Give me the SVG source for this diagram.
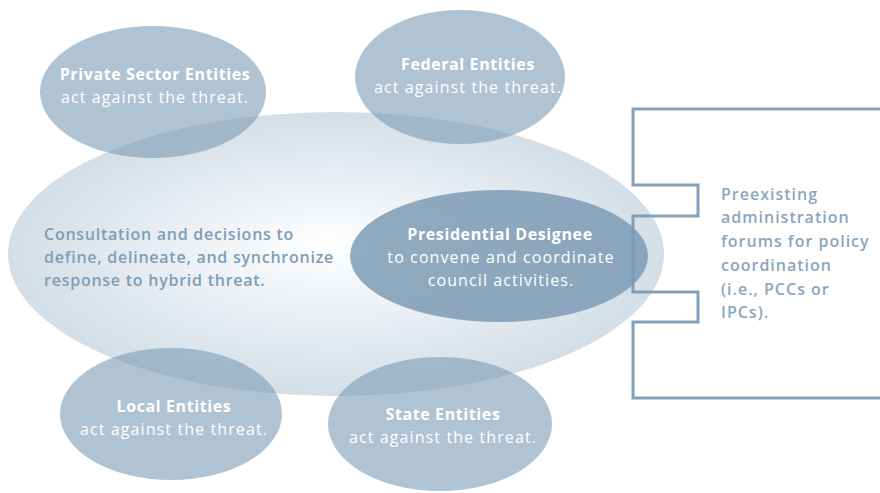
<svg xmlns="http://www.w3.org/2000/svg" width="880" height="493" viewBox="0 0 880 493">
<defs>
<radialGradient id="core" cx="0.5" cy="0.5" r="0.5" fx="0.49" fy="0.47">
<stop offset="0" stop-color="#ffffff"/>
<stop offset="0.55" stop-color="#e7edf2"/>
<stop offset="1" stop-color="#d3dee6"/>
</radialGradient>
<style>
.sat{fill:#7b9bb5;fill-opacity:0.6}
.pres{fill:#7c9bb4;fill-opacity:0.85}
.t{font-family:"Open Sans","Noto Sans",sans-serif;font-size:16px;fill:#ffffff;text-anchor:middle;letter-spacing:1.1px}
.b{font-weight:700;letter-spacing:0.6px}
.c{font-family:"Open Sans","Noto Sans",sans-serif;font-size:16px;font-weight:600;fill:#7f9db6;letter-spacing:0.75px}
.r{font-family:"Open Sans","Noto Sans",sans-serif;font-size:16px;font-weight:600;fill:#8aa6bd;letter-spacing:1px}
.br{fill:none;stroke:#7b9bb5;stroke-width:3;stroke-opacity:0.95}
</style>
</defs>
<g id="council">
<ellipse cx="336" cy="254" rx="328" ry="142" fill="url(#core)"/>
<text class="c" x="44" y="240">Consultation and decisions to</text>
<text class="c" x="44" y="263">define, delineate, and synchronize</text>
<text class="c" x="44" y="286">response to hybrid threat.</text>
</g>
<g id="private">
<ellipse class="sat" cx="153" cy="92" rx="113" ry="66"/>
<text class="t b" x="155" y="80">Private Sector Entities</text>
<text class="t" x="155" y="103">act against the threat.</text>
</g>
<g id="federal">
<ellipse class="sat" cx="460" cy="77" rx="105" ry="67"/>
<text class="t b" x="468" y="70">Federal Entities</text>
<text class="t" x="468" y="93">act against the threat.</text>
</g>
<g id="local">
<ellipse class="sat" cx="171" cy="414" rx="111" ry="66"/>
<text class="t b" x="174" y="412">Local Entities</text>
<text class="t" x="174" y="435">act against the threat.</text>
</g>
<g id="state">
<ellipse class="sat" cx="440" cy="424" rx="112" ry="67"/>
<text class="t b" x="443" y="420">State Entities</text>
<text class="t" x="443" y="443">act against the threat.</text>
</g>
<g id="presidential">
<ellipse class="pres" cx="499" cy="256" rx="149" ry="66"/>
<text class="t b" x="500" y="240">Presidential Designee</text>
<text class="t" x="501" y="263">to convene and coordinate</text>
<text class="t" x="501" y="286">council activities.</text>
</g>
<g id="connectors">
<path class="br" d="M880 109 H633 V185 H698 V216 H633 V292 H698 V322 H633 V398 H880"/>
</g>
<g id="forums">
<text class="r" x="721" y="200">Preexisting</text>
<text class="r" x="721" y="223">administration</text>
<text class="r" x="721" y="247">forums for policy</text>
<text class="r" x="721" y="271">coordination</text>
<text class="r" x="721" y="295">(i.e., PCCs or</text>
<text class="r" x="721" y="318">IPCs).</text>
</g>
</svg>
